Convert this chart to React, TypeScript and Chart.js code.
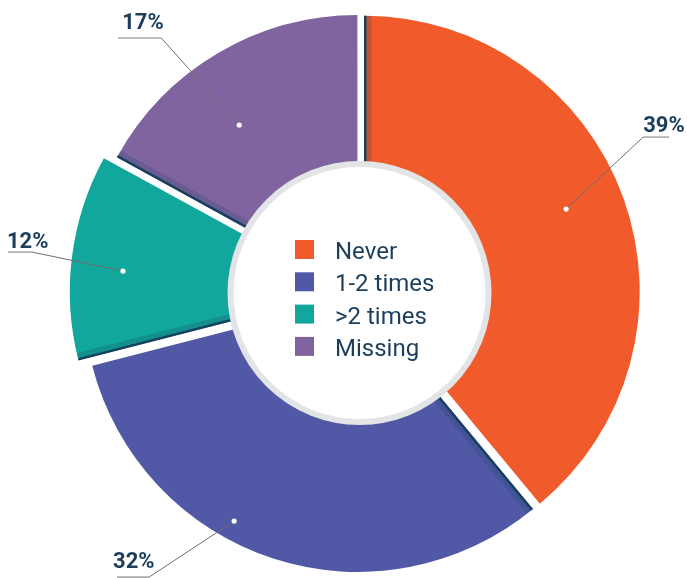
import React, { useEffect, useRef } from "react";
import { Chart, registerables } from "chart.js";

Chart.register(...registerables);

// ---- data ----
const categories = ["Never", "1-2 times", ">2 times", "Missing"];
const values = [39, 32, 12, 17];
const percentLabels = ["39%", "32%", "12%", "17%"];

// ---- styles ----
const sliceColors = ["#F15A2B", "#5158A6", "#12A79C", "#7F64A0"];
const sliceOffsets = [19, 19, 48, 16]; // Chart.js offset option (translation = offset / 4)
const NAVY = "#1B3E5C";
const RING_GRAY = "#E2E4E6";

// label anchor styling: dot angle shift (deg), dot radius ratio, elbow offset, underline span, text offset
const labelLayout = [
  { dA: -2.3, rr: 0.814, ex: 77, ey: -72, u0: 0, u1: 26, tx: 0, ty: -5 },
  { dA: 10.8, rr: 0.95, ex: -85, ey: 56, u0: -32, u1: 0, tx: -36, ty: -9 },
  { dA: -1.9, rr: 0.867, ex: -91, ey: -19, u0: -24, u1: 0, tx: -25, ty: -4 },
  { dA: -5.0, rr: 0.754, ex: -78, ey: -87, u0: -43, u1: 0, tx: -39, ty: -9 },
];

const overlayPlugin = {
  id: "overlay",
  afterDatasetsDraw(chart: any) {
    const ctx: CanvasRenderingContext2D = chart.ctx;
    const meta = chart.getDatasetMeta(0);
    const arcs = meta.data as any[];
    if (!arcs.length) return;

    // edge shading on each slice's start edge
    arcs.forEach((arc) => {
      const p = arc.getProps(["x", "y", "startAngle", "endAngle", "innerRadius", "outerRadius", "circumference"], true);
      const t = (arc.options.offset || 0) / 4;
      const half = (p.startAngle + p.endAngle) / 2;
      const fix = 1 - Math.sin(Math.min(Math.PI, p.circumference || 0));
      const rOut = p.outerRadius + t * fix;
      ctx.save();
      ctx.translate(p.x + Math.cos(half) * t, p.y + Math.sin(half) * t);
      ctx.beginPath();
      ctx.moveTo(0, 0);
      ctx.arc(0, 0, rOut, p.startAngle, p.endAngle);
      ctx.closePath();
      ctx.clip();
      const c = Math.cos(p.startAngle);
      const s = Math.sin(p.startAngle);
      const nx = -s;
      const ny = c;
      const r0 = 0;
      const r1 = rOut + 2;
      const W = 7.5;
      ctx.beginPath();
      ctx.moveTo(c * r0, s * r0);
      ctx.lineTo(c * r1, s * r1);
      ctx.lineTo(c * r1 + nx * W, s * r1 + ny * W);
      ctx.lineTo(c * r0 + nx * W, s * r0 + ny * W);
      ctx.closePath();
      ctx.fillStyle = "rgba(23,64,94,0.22)";
      ctx.fill();
      ctx.beginPath();
      ctx.moveTo(c * r0, s * r0);
      ctx.lineTo(c * r1, s * r1);
      ctx.lineWidth = 5;
      ctx.strokeStyle = "#17405E";
      ctx.stroke();
      ctx.restore();
    });

    const cx = arcs[0].x;
    const cy = arcs[0].y;
    const baseR = arcs[0].outerRadius;

    // centre disc
    ctx.save();
    ctx.beginPath();
    ctx.arc(cx, cy, 129, 0, Math.PI * 2);
    ctx.fillStyle = "#FFFFFF";
    ctx.fill();
    ctx.lineWidth = 6;
    ctx.strokeStyle = RING_GRAY;
    ctx.stroke();
    ctx.restore();

    // centre legend
    ctx.save();
    ctx.font = "24px Roboto";
    ctx.textBaseline = "alphabetic";
    ctx.textAlign = "left";
    categories.forEach((label, i) => {
      const top = cy - 53 + i * 32.3;
      ctx.fillStyle = sliceColors[i];
      ctx.fillRect(cx - 64.5, top, 19, 19);
      ctx.fillStyle = NAVY;
      ctx.fillText(label, cx - 24.5, top + 19);
    });
    ctx.restore();

    // percentage labels with leaders
    arcs.forEach((arc, i) => {
      const L = labelLayout[i];
      const mid = (arc.startAngle + arc.endAngle) / 2 + (L.dA * Math.PI) / 180;
      const r = L.rr * baseR;
      const dx = cx + Math.cos(mid) * r;
      const dy = cy + Math.sin(mid) * r;
      const ex = dx + L.ex;
      const ey = dy + L.ey;
      ctx.save();
      ctx.beginPath();
      ctx.moveTo(dx, dy);
      ctx.lineTo(ex, ey);
      ctx.lineWidth = 1;
      ctx.strokeStyle = "#6E6E6E";
      ctx.stroke();
      ctx.beginPath();
      ctx.moveTo(ex + L.u0, ey);
      ctx.lineTo(ex + L.u1, ey);
      ctx.lineWidth = 1.6;
      ctx.strokeStyle = "#A9A9A9";
      ctx.stroke();
      ctx.beginPath();
      ctx.arc(dx, dy, 2.6, 0, Math.PI * 2);
      ctx.fillStyle = "#FFFFFF";
      ctx.fill();
      ctx.font = "bold 22px Roboto";
      ctx.fillStyle = NAVY;
      ctx.textAlign = "left";
      ctx.textBaseline = "alphabetic";
      ctx.fillText(percentLabels[i], ex + L.tx, ey + L.ty);
      ctx.restore();
    });
  },
};

export default function App() {
  const ref = useRef<HTMLCanvasElement | null>(null);
  useEffect(() => {
    if (!ref.current) return;
    const chart = new Chart(ref.current, {
      type: "doughnut",
      data: {
        labels: categories,
        datasets: [
          {
            data: values,
            backgroundColor: sliceColors,
            borderWidth: 0,
            offset: sliceOffsets,
          },
        ],
      },
      options: {
        responsive: false,
        animation: false,
        events: [],
        radius: 274,
        cutout: "30%",
        layout: { padding: { left: 32, top: 8, right: 0, bottom: 0 } },
        plugins: { legend: { display: false }, tooltip: { enabled: false } },
      } as any,
      plugins: [overlayPlugin],
    });
    return () => chart.destroy();
  }, []);
  return (
    <div style={{ position: "absolute", left: 0, top: 0, width: 687, height: 578, background: "#fff" }}>
      <canvas ref={ref} width={687} height={578} style={{ width: 687, height: 578, display: "block" }} />
    </div>
  );
}
